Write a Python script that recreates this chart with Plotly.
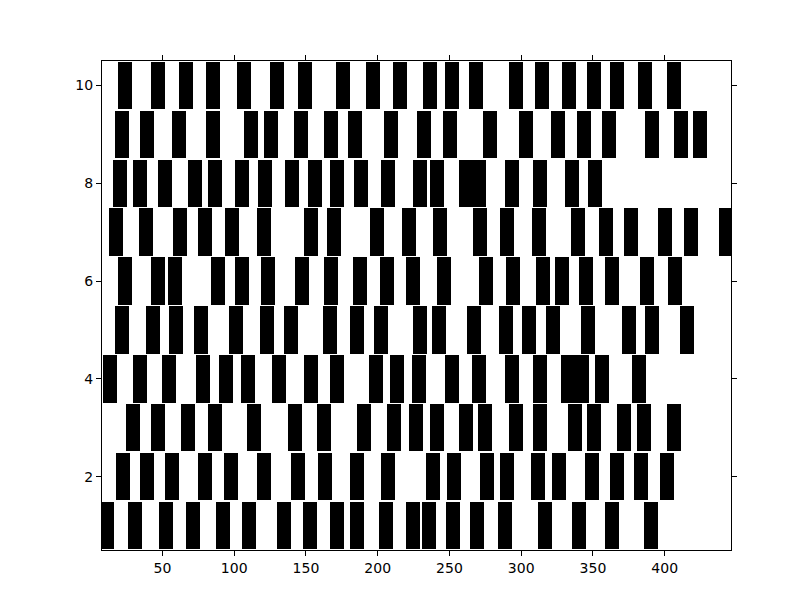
import plotly.graph_objects as go

# event positions per row
row_1 = [11.2, 30.7, 52.3, 71.1, 92.1, 110.2, 134.6, 152.7, 171.5, 185.5,
         205.7, 224.5, 235.7, 252.4, 269.1, 288.7, 316.6, 340.3, 363.3, 390.5]
row_2 = [22.3, 39.1, 56.5, 79.5, 97.6, 120.6, 144.3, 163.2, 185.5, 207.1,
         238.5, 253.1, 276.1, 290.1, 311.7, 326.3, 349.3, 366.8, 383.5, 401.6]
row_3 = [29.3, 46.7, 67.6, 86.5, 113.7, 142.3, 162.5, 190.4, 211.3, 226.6,
         241.3, 261.5, 274.7, 296.3, 313.1, 337.5, 350.7, 371.6, 385.6, 406.5]
row_4 = [13.3, 34.2, 54.4, 78.1, 94.1, 109.5, 131.1, 153.4, 171.5, 198.7,
         213.4, 228.7, 251.7, 270.5, 293.5, 313.1, 332.6, 342.3, 356.3, 382.1]
row_5 = [21.6, 43.2, 59.3, 76.7, 101.1, 122.7, 139.5, 166.6, 185.5, 202.2,
         229.4, 242.6, 267.0, 289.4, 305.4, 322.1, 346.5, 375.1, 391.1, 415.5]
row_6 = [23.7, 46.7, 58.6, 88.6, 105.3, 123.9, 147.1, 167.3, 187.6, 206.4,
         224.5, 246.1, 275.4, 294.2, 315.2, 328.4, 345.1, 363.3, 387.7, 407.2]
row_7 = [17.4, 38.4, 62.1, 79.5, 98.3, 120.6, 153.4, 169.4, 199.4, 221.7,
         243.3, 271.2, 290.1, 312.4, 339.6, 359.1, 376.5, 400.2, 418.4, 442.8]
row_8 = [20.2, 34.2, 51.6, 72.5, 86.5, 105.3, 121.3, 140.2, 156.2, 171.6,
         188.3, 207.1, 229.4, 241.3, 261.5, 270.5, 293.5, 313.1, 335.4, 351.4]
row_9 = [21.6, 39.1, 61.4, 85.1, 111.6, 125.5, 146.4, 167.3, 184.1, 209.2,
         232.2, 250.3, 278.2, 303.3, 325.6, 343.7, 361.2, 391.2, 411.4, 424.6]
row_10 = [23.7, 46.7, 66.3, 85.1, 106.9, 129.7, 149.2, 175.7, 196.6, 215.5,
          236.4, 251.7, 268.4, 296.5, 314.5, 333.3, 350.8, 366.8, 386.3, 406.7]

rows = [row_1, row_2, row_3, row_4, row_5, row_6, row_7, row_8, row_9, row_10]
offsets = list(range(1, 11))

line_length = 0.97
event_width = 9.76

fig = go.Figure()
for offset, events in zip(offsets, rows):
    fig.add_trace(
        go.Bar(
            x=events,
            y=[line_length] * len(events),
            base=offset - line_length / 2,
            width=event_width,
            marker=dict(color="black", line=dict(width=0)),
            showlegend=False,
            hoverinfo="x",
        )
    )

axis_style = dict(
    showline=True,
    linecolor="black",
    linewidth=1,
    mirror="ticks",
    ticks="outside",
    ticklen=5,
    tickcolor="black",
    showgrid=False,
    zeroline=False,
    tickfont=dict(family="DejaVu Sans", size=14, color="black"),
)

fig.update_xaxes(range=[7.9, 446.2], tickvals=[50, 100, 150, 200, 250, 300, 350, 400], **axis_style)
fig.update_yaxes(range=[0.5, 10.5], tickvals=[2, 4, 6, 8, 10], **axis_style)

# the page body adds 8px, so left/top margins are 8px smaller here
fig.update_layout(
    width=812,
    height=612,
    margin=dict(l=94, r=89, t=53, b=70),
    barmode="overlay",
    bargap=0,
    plot_bgcolor="white",
    paper_bgcolor="white",
)

fig.write_html("out.html")
